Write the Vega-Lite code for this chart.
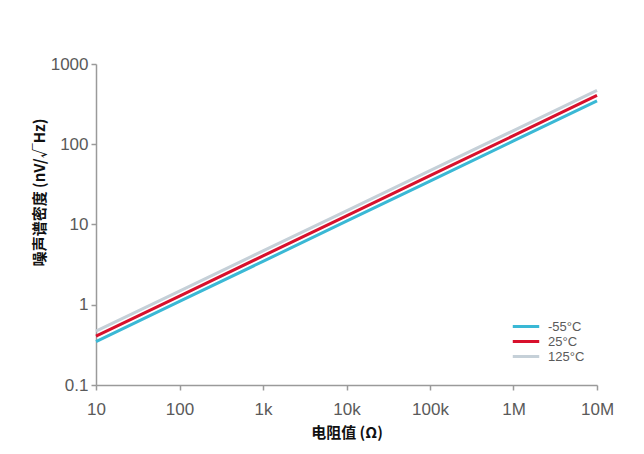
{
  "$schema": "https://vega.github.io/schema/vega-lite/v6.json",
  "width": 501,
  "height": 321,
  "autosize": "none",
  "padding": {"left": 96, "top": 64, "right": 47, "bottom": 69},
  "background": "white",
  "config": {
    "view": {"stroke": null},
    "font": "Noto Sans CJK SC"
  },
  "data": {
    "values": [
      {"r": 10, "v": 0.347, "t": "-55°C"},
      {"r": 100, "v": 1.10, "t": "-55°C"},
      {"r": 1000, "v": 3.47, "t": "-55°C"},
      {"r": 10000, "v": 11.0, "t": "-55°C"},
      {"r": 100000, "v": 34.7, "t": "-55°C"},
      {"r": 1000000, "v": 110, "t": "-55°C"},
      {"r": 10000000, "v": 347, "t": "-55°C"},
      {"r": 10, "v": 0.406, "t": "25°C"},
      {"r": 100, "v": 1.28, "t": "25°C"},
      {"r": 1000, "v": 4.06, "t": "25°C"},
      {"r": 10000, "v": 12.8, "t": "25°C"},
      {"r": 100000, "v": 40.6, "t": "25°C"},
      {"r": 1000000, "v": 128, "t": "25°C"},
      {"r": 10000000, "v": 406, "t": "25°C"},
      {"r": 10, "v": 0.469, "t": "125°C"},
      {"r": 100, "v": 1.48, "t": "125°C"},
      {"r": 1000, "v": 4.69, "t": "125°C"},
      {"r": 10000, "v": 14.8, "t": "125°C"},
      {"r": 100000, "v": 46.9, "t": "125°C"},
      {"r": 1000000, "v": 148, "t": "125°C"},
      {"r": 10000000, "v": 469, "t": "125°C"}
    ]
  },
  "mark": {"type": "line", "strokeWidth": 3},
  "encoding": {
    "x": {
      "field": "r", "type": "quantitative",
      "scale": {"type": "log", "domain": [10, 10000000], "nice": false},
      "axis": {
        "values": [10, 100, 1000, 10000, 100000, 1000000, 10000000],
        "labelExpr": "datum.value >= 1e6 ? (datum.value/1e6) + 'M' : datum.value >= 1e3 ? (datum.value/1e3) + 'k' : datum.value",
        "labelFlush": false,
        "grid": false,
        "domainColor": "#9a9a9a", "domainWidth": 1.5,
        "tickColor": "#9a9a9a", "tickWidth": 1.5, "tickSize": 5,
        "labelFont": "Liberation Sans", "labelFontSize": 17, "labelColor": "#5a5a5a", "labelPadding": 11,
        "title": "电阻值 (Ω)", "titleFontSize": 15, "titleFontWeight": "bold", "titleColor": "#111111", "titlePadding": 8
      }
    },
    "y": {
      "field": "v", "type": "quantitative",
      "scale": {"type": "log", "domain": [0.1, 1000], "nice": false},
      "axis": {
        "values": [0.1, 1, 10, 100, 1000],
        "labelExpr": "datum.value < 1 ? '0.1' : format(datum.value, 'd')",
        "labelFlush": false,
        "grid": false,
        "domainColor": "#9a9a9a", "domainWidth": 1.5,
        "tickColor": "#9a9a9a", "tickWidth": 1.5, "tickSize": 5,
        "labelFont": "Liberation Sans", "labelFontSize": 17, "labelColor": "#5a5a5a", "labelPadding": 3,
        "title": "噪声谱密度  (nV/√Hz)", "titleFontSize": 15, "titleFontWeight": "bold", "titleColor": "#111111", "titlePadding": 3,
        "titleY": 128
      }
    },
    "color": {
      "field": "t", "type": "nominal",
      "scale": {"domain": ["-55°C", "25°C", "125°C"], "range": ["#3ab8d5", "#d8102c", "#c5d0d8"]},
      "legend": {
        "title": null,
        "orient": "none",
        "legendX": 415,
        "legendY": 255,
        "symbolType": "stroke",
        "symbolStrokeWidth": 3,
        "symbolSize": 700,
        "clipHeight": 15,
        "labelFont": "Liberation Sans",
        "labelFontSize": 13,
        "labelColor": "#5a5a5a",
        "labelOffset": 7,
        "rowPadding": 0
      }
    }
  }
}
